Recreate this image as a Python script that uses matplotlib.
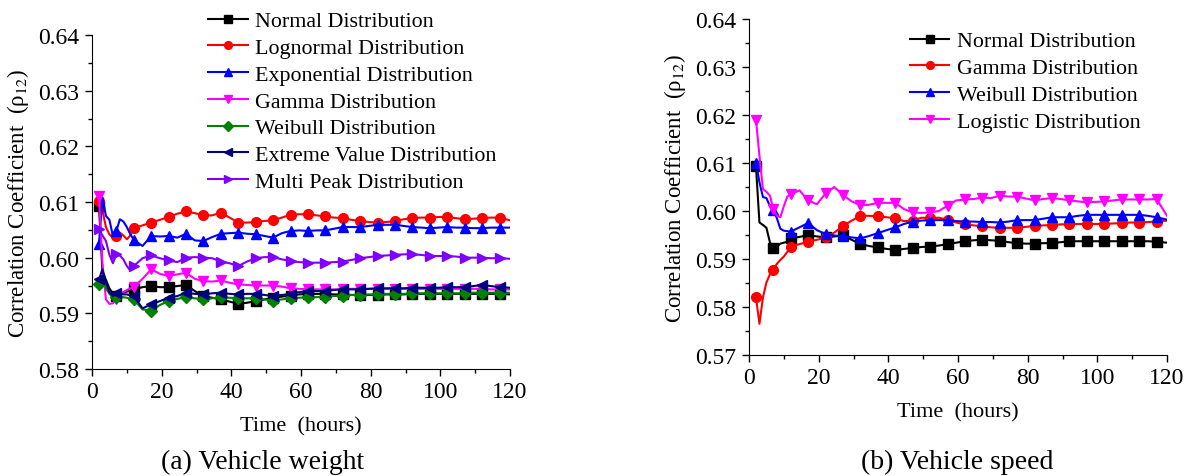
import matplotlib
matplotlib.use("Agg")
import matplotlib.pyplot as plt
from matplotlib.ticker import MultipleLocator

plt.rcParams["font.family"] = ["Liberation Serif", "DejaVu Serif"]
plt.rcParams["mathtext.fontset"] = "stix"

# time axis (hours) shared by both panels
hours = [2, 3, 4, 5, 6, 7, 8, 9, 10, 11, 12,
         14.5, 17, 19.5, 22, 24.5, 27, 29.5, 32, 34.5, 37,
         39.5, 42, 44.5, 47, 49.5, 52, 54.5, 57, 59.5, 62,
         64.5, 67, 69.5, 72, 74.5, 77, 79.5, 82, 84.5, 87,
         89.5, 92, 94.5, 97, 99.5, 102, 104.5, 107, 109.5, 112,
         114.5, 117, 120]

# (a) vehicle weight
w_normal = [0.6093, 0.5975, 0.5960, 0.5945, 0.5935, 0.5931, 0.5934, 0.5937, 0.5939, 0.5941, 0.5943,
            0.5947, 0.5949, 0.5947, 0.5947, 0.5949, 0.5951, 0.5940, 0.5931, 0.5928, 0.5925,
            0.5921, 0.5917, 0.5919, 0.5922, 0.5925, 0.5928, 0.5930, 0.5932, 0.5934, 0.5935,
            0.5935, 0.5935, 0.5934, 0.5934, 0.5933, 0.5933, 0.5933, 0.5933, 0.5934, 0.5934,
            0.5934, 0.5935, 0.5935, 0.5935, 0.5935, 0.5935, 0.5935, 0.5935, 0.5935, 0.5935,
            0.5935, 0.5935, 0.5934]
w_lognormal = [0.6102, 0.6085, 0.6055, 0.6042, 0.6035, 0.6039, 0.6045, 0.6040, 0.6033, 0.6040, 0.6053,
               0.6058, 0.6063, 0.6068, 0.6073, 0.6079, 0.6083, 0.6080, 0.6076, 0.6076, 0.6081,
               0.6072, 0.6063, 0.6063, 0.6064, 0.6066, 0.6067, 0.6072, 0.6077, 0.6078, 0.6078,
               0.6076, 0.6074, 0.6072, 0.6071, 0.6068, 0.6066, 0.6064, 0.6063, 0.6064, 0.6066,
               0.6069, 0.6071, 0.6072, 0.6072, 0.6073, 0.6073, 0.6071, 0.6069, 0.6070, 0.6071,
               0.6072, 0.6072, 0.6067]
w_exponential = [0.6025, 0.6108, 0.6075, 0.6068, 0.6039, 0.6048, 0.6069, 0.6065, 0.6055, 0.6042, 0.6032,
                 0.6021, 0.6039, 0.6038, 0.6039, 0.6036, 0.6043, 0.6031, 0.6030, 0.6037, 0.6043,
                 0.6044, 0.6045, 0.6043, 0.6042, 0.6039, 0.6036, 0.6044, 0.6048, 0.6049, 0.6048,
                 0.6049, 0.6049, 0.6052, 0.6055, 0.6055, 0.6055, 0.6057, 0.6059, 0.6059, 0.6059,
                 0.6057, 0.6055, 0.6054, 0.6053, 0.6054, 0.6055, 0.6054, 0.6054, 0.6053, 0.6053,
                 0.6054, 0.6054, 0.6054]
w_gamma = [0.6111, 0.5990, 0.5925, 0.5917, 0.5918, 0.5925, 0.5933, 0.5938, 0.5942, 0.5945, 0.5947,
           0.5962, 0.5979, 0.5971, 0.5967, 0.5970, 0.5973, 0.5962, 0.5958, 0.5957, 0.5959,
           0.5955, 0.5952, 0.5951, 0.5950, 0.5950, 0.5950, 0.5948, 0.5945, 0.5944, 0.5943,
           0.5943, 0.5943, 0.5943, 0.5943, 0.5944, 0.5944, 0.5944, 0.5944, 0.5944, 0.5944,
           0.5944, 0.5944, 0.5944, 0.5944, 0.5944, 0.5944, 0.5944, 0.5944, 0.5944, 0.5944,
           0.5943, 0.5943, 0.5943]
w_weibull = [0.5952, 0.5967, 0.5945, 0.5935, 0.5929, 0.5929, 0.5930, 0.5929, 0.5928, 0.5926, 0.5925,
             0.5907, 0.5905, 0.5915, 0.5922, 0.5926, 0.5929, 0.5927, 0.5925, 0.5927, 0.5929,
             0.5928, 0.5927, 0.5927, 0.5927, 0.5925, 0.5923, 0.5925, 0.5927, 0.5928, 0.5929,
             0.5929, 0.5930, 0.5931, 0.5932, 0.5933, 0.5933, 0.5934, 0.5934, 0.5935, 0.5935,
             0.5935, 0.5936, 0.5936, 0.5936, 0.5936, 0.5936, 0.5936, 0.5936, 0.5937, 0.5937,
             0.5937, 0.5937, 0.5937]
w_extreme = [0.5961, 0.5979, 0.5955, 0.5938, 0.5931, 0.5937, 0.5936, 0.5934, 0.5934, 0.5932, 0.5931,
             0.5909, 0.5916, 0.5922, 0.5928, 0.5931, 0.5937, 0.5935, 0.5934, 0.5936, 0.5937,
             0.5935, 0.5934, 0.5935, 0.5935, 0.5933, 0.5931, 0.5933, 0.5935, 0.5938, 0.5940,
             0.5940, 0.5940, 0.5942, 0.5943, 0.5943, 0.5943, 0.5944, 0.5945, 0.5945, 0.5945,
             0.5945, 0.5946, 0.5946, 0.5946, 0.5946, 0.5947, 0.5947, 0.5947, 0.5949, 0.5951,
             0.5949, 0.5947, 0.5946]
w_multipeak = [0.6051, 0.6040, 0.6030, 0.6005, 0.5990, 0.6006, 0.6004, 0.5997, 0.5985, 0.5977, 0.5985,
               0.5999, 0.6004, 0.5999, 0.5995, 0.5992, 0.6000, 0.6001, 0.6000, 0.5999, 0.5993,
               0.5990, 0.5985, 0.5993, 0.5999, 0.6001, 0.6001, 0.5997, 0.5994, 0.5992, 0.5991,
               0.5991, 0.5991, 0.5992, 0.5993, 0.5996, 0.5999, 0.6001, 0.6003, 0.6004, 0.6005,
               0.6006, 0.6006, 0.6005, 0.6003, 0.6003, 0.6003, 0.6002, 0.6000, 0.6000, 0.6000,
               0.5999, 0.5999, 0.5998]

# (b) vehicle speed
s_normal = [0.6093, 0.5976, 0.5971, 0.5965, 0.5935, 0.5923, 0.5926, 0.5932, 0.5934, 0.5936, 0.5943,
            0.5946, 0.5950, 0.5947, 0.5945, 0.5947, 0.5949, 0.5940, 0.5931, 0.5927, 0.5924,
            0.5921, 0.5919, 0.5921, 0.5923, 0.5925, 0.5926, 0.5928, 0.5931, 0.5934, 0.5937,
            0.5939, 0.5940, 0.5939, 0.5938, 0.5935, 0.5933, 0.5932, 0.5932, 0.5933, 0.5933,
            0.5935, 0.5937, 0.5937, 0.5937, 0.5937, 0.5937, 0.5937, 0.5937, 0.5937, 0.5937,
            0.5937, 0.5936, 0.5934]
s_gamma = [0.5820, 0.5765, 0.5820, 0.5851, 0.5868, 0.5878, 0.5890, 0.5898, 0.5905, 0.5915, 0.5926,
           0.5931, 0.5936, 0.5940, 0.5945, 0.5955, 0.5969, 0.5980, 0.5990, 0.5990, 0.5989,
           0.5987, 0.5985, 0.5979, 0.5980, 0.5986, 0.5985, 0.5986, 0.5982, 0.5976, 0.5972,
           0.5970, 0.5968, 0.5966, 0.5965, 0.5965, 0.5965, 0.5967, 0.5969, 0.5970, 0.5971,
           0.5972, 0.5973, 0.5973, 0.5973, 0.5973, 0.5973, 0.5974, 0.5975, 0.5976, 0.5976,
           0.5977, 0.5978, 0.5980]
s_weibull = [0.6101, 0.6060, 0.6029, 0.6027, 0.6010, 0.6002, 0.5985, 0.5963, 0.5959, 0.5958, 0.5957,
             0.5966, 0.5975, 0.5960, 0.5952, 0.5949, 0.5947, 0.5945, 0.5943, 0.5948, 0.5954,
             0.5960, 0.5966, 0.5973, 0.5978, 0.5980, 0.5981, 0.5981, 0.5981, 0.5979, 0.5978,
             0.5978, 0.5977, 0.5977, 0.5976, 0.5978, 0.5981, 0.5981, 0.5981, 0.5984, 0.5987,
             0.5987, 0.5987, 0.5990, 0.5992, 0.5992, 0.5992, 0.5992, 0.5992, 0.5992, 0.5992,
             0.5990, 0.5987, 0.5982]
s_logistic = [0.6190, 0.6115, 0.6046, 0.6040, 0.6032, 0.6004, 0.5990, 0.5987, 0.6010, 0.6030, 0.6035,
              0.6043, 0.6022, 0.6014, 0.6037, 0.6050, 0.6033, 0.6020, 0.6012, 0.6013, 0.6017,
              0.6017, 0.6017, 0.6004, 0.5997, 0.5996, 0.5997, 0.6000, 0.6011, 0.6022, 0.6024,
              0.6025, 0.6028, 0.6027, 0.6032, 0.6030, 0.6030, 0.6026, 0.6022, 0.6025, 0.6027,
              0.6025, 0.6022, 0.6020, 0.6018, 0.6019, 0.6020, 0.6022, 0.6024, 0.6024, 0.6024,
              0.6024, 0.6025, 0.5990]

weight_series = [
    ("Normal Distribution", w_normal, "black", "s"),
    ("Lognormal Distribution", w_lognormal, "#ff0000", "o"),
    ("Exponential Distribution", w_exponential, "#0000ff", "^"),
    ("Gamma Distribution", w_gamma, "#ff00ff", "v"),
    ("Weibull Distribution", w_weibull, "#008000", "D"),
    ("Extreme Value Distribution", w_extreme, "#000080", "<"),
    ("Multi Peak Distribution", w_multipeak, "#8000ff", ">"),
]
speed_series = [
    ("Normal Distribution", s_normal, "black", "s"),
    ("Gamma Distribution", s_gamma, "#ff0000", "o"),
    ("Weibull Distribution", s_weibull, "#0000ff", "^"),
    ("Logistic Distribution", s_logistic, "#ff00ff", "v"),
]

# markers every 5 hours starting at hour 2
mark_idx = [i for i, t in enumerate(hours) if (t - 2) % 5 == 0]

W, H = 1190, 477
fig = plt.figure(figsize=(W / 100, H / 100), dpi=100)
ax1 = fig.add_axes([92 / W, 1 - 370 / H, 418 / W, 334 / H])
ax2 = fig.add_axes([749 / W, 1 - 356 / H, 418 / W, 336 / H])


def draw(ax, series, ylim, leg_xy):
    for name, vals, col, mk in series:
        ms = 6 if mk == "D" else 7
        ax.plot(hours, vals, color=col, lw=1.5, marker=mk, ms=ms,
                markevery=mark_idx, label=name)
    ax.set_xlim(0, 120)
    ax.set_ylim(*ylim)
    ax.xaxis.set_major_locator(MultipleLocator(20))
    ax.xaxis.set_minor_locator(MultipleLocator(10))
    ax.yaxis.set_major_locator(MultipleLocator(0.01))
    ax.yaxis.set_minor_locator(MultipleLocator(0.005))
    ax.yaxis.set_major_formatter(plt.FormatStrFormatter("%.2f"))
    ax.spines["top"].set_visible(False)
    ax.spines["right"].set_visible(False)
    ax.tick_params(which="major", direction="out", length=5, width=1, labelsize=17, pad=4)
    ax.tick_params(which="minor", direction="out", length=3, width=1)
    ax.set_xlabel("Time  (hours)", fontsize=16, labelpad=10)
    ax.set_ylabel("Correlation Coefficient  (ρ$_{12}$)", fontsize=16.5)
    ax.yaxis.set_label_coords(-0.147, 0.5)
    ax.legend(loc="upper left", bbox_to_anchor=(leg_xy[0] / W, 1 - leg_xy[1] / H),
              bbox_transform=fig.transFigure, frameon=False, fontsize=15.8,
              borderpad=0, borderaxespad=0, handlelength=1.8, handletextpad=0.35,
              labelspacing=0.29, markerscale=0.8)


draw(ax1, weight_series, (0.58, 0.64), (208, 12))
draw(ax2, speed_series, (0.57, 0.64), (910, 32))

fig.text(263 / W, 1 - 462 / H, "(a) Vehicle weight", fontsize=20, ha="center", va="center")
fig.text(957 / W, 1 - 462 / H, "(b) Vehicle speed", fontsize=20, ha="center", va="center")

fig.savefig("out.png", dpi=100)
